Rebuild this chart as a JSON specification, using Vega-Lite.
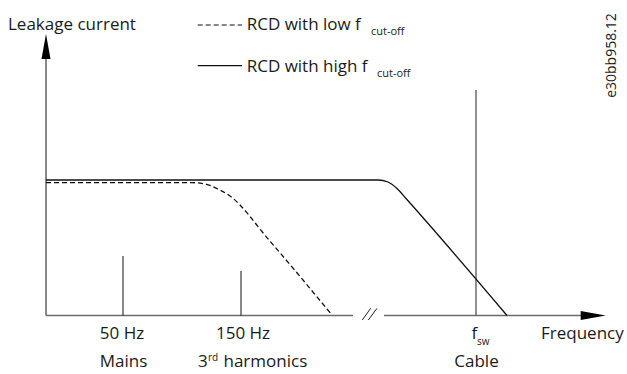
{
  "$schema": "https://vega.github.io/schema/vega-lite/v6.json",
  "width": 627,
  "height": 374,
  "autosize": {"type": "fit", "contains": "padding"},
  "padding": 0,
  "background": "white",
  "config": {"view": {"stroke": null}},
  "datasets": {
    "axes": [
      {"part": "y-axis", "x": 0, "y": 0, "x2": 0, "y2": 256.5},
      {"part": "x-axis left", "x": 0, "y": 0, "x2": 307, "y2": 0},
      {"part": "x-axis right", "x": 338, "y": 0, "x2": 535, "y2": 0}
    ],
    "breaks": [
      {"part": "slash 1", "x": 316.3, "y": -4.5, "x2": 324.7, "y2": 7.2},
      {"part": "slash 2", "x": 322.3, "y": -4.5, "x2": 331, "y2": 7.2}
    ],
    "spikes": [
      {"name": "Mains 50 Hz", "x": 77, "y": 0, "y2": 59.5},
      {"name": "3rd harmonics 150 Hz", "x": 195, "y": 0, "y2": 44.5}
    ],
    "cable": [
      {"name": "Cable fsw", "x": 430, "y": 0, "y2": 225.5}
    ],
    "curves": [
      {"series": "high", "order": 1, "f": 0, "i": 135.5},
      {"series": "high", "order": 2, "f": 332, "i": 135.5},
      {"series": "high", "order": 3, "f": 342, "i": 133.5},
      {"series": "high", "order": 4, "f": 351, "i": 127},
      {"series": "high", "order": 5, "f": 360.7, "i": 116.2},
      {"series": "high", "order": 6, "f": 461, "i": 0},
      {"series": "low", "order": 1, "f": 0, "i": 132.8},
      {"series": "low", "order": 2, "f": 146, "i": 132.8},
      {"series": "low", "order": 3, "f": 159, "i": 131.5},
      {"series": "low", "order": 4, "f": 172, "i": 126.5},
      {"series": "low", "order": 5, "f": 184, "i": 119.5},
      {"series": "low", "order": 6, "f": 223, "i": 75.5},
      {"series": "low", "order": 7, "f": 286, "i": 0.5}
    ],
    "legend": [
      {"series": "low", "x": 151.7, "x2": 196, "y": 290.5},
      {"series": "high", "x": 151.7, "x2": 196, "y": 249.8}
    ],
    "arrows": [
      {"dir": "up", "x": 0, "y": 269},
      {"dir": "right", "x": 547.2, "y": 0}
    ],
    "labels": [
      {"role": "left", "text": "Leakage current", "x": -38, "y": 285.5},
      {"role": "left", "text": "RCD with low f", "x": 200.7, "y": 285.5},
      {"role": "left", "text": "RCD with high f", "x": 200.7, "y": 243.5},
      {"role": "center", "text": "50 Hz", "x": 76, "y": -23.5},
      {"role": "center", "text": "150 Hz", "x": 197, "y": -23.5},
      {"role": "left", "text": "Frequency", "x": 495, "y": -23.5},
      {"role": "left", "text": "f", "x": 425.5, "y": -23.5},
      {"role": "center", "text": "Mains", "x": 77.5, "y": -51.5},
      {"role": "center", "text": "Cable", "x": 430.5, "y": -51.5},
      {"role": "left", "text": "3", "x": 152, "y": -51.5},
      {"role": "left", "text": "harmonics", "x": 177.5, "y": -51.5},
      {"role": "sub", "text": "cut-off", "x": 325, "y": 280.5},
      {"role": "sub", "text": "cut-off", "x": 331, "y": 238.5},
      {"role": "small", "text": "sw", "x": 431, "y": -29.5},
      {"role": "small", "text": "rd", "x": 162, "y": -45.5},
      {"role": "code", "text": "e30bb958.12", "x": 566, "y": 260}
    ]
  },
  "encoding": {
    "x": {"type": "quantitative", "scale": {"domain": [-46, 581], "nice": false, "zero": false}, "axis": null},
    "y": {"type": "quantitative", "scale": {"domain": [-58.5, 315.5], "nice": false, "zero": false}, "axis": null}
  },
  "layer": [
    {
      "data": {"name": "axes"},
      "mark": {"type": "rule", "color": "#6b6b6b", "strokeWidth": 1.6},
      "encoding": {"x": {"field": "x"}, "y": {"field": "y"}, "x2": {"field": "x2"}, "y2": {"field": "y2"}}
    },
    {
      "data": {"name": "breaks"},
      "mark": {"type": "rule", "color": "#222222", "strokeWidth": 1},
      "encoding": {"x": {"field": "x"}, "y": {"field": "y"}, "x2": {"field": "x2"}, "y2": {"field": "y2"}}
    },
    {
      "data": {"name": "spikes"},
      "mark": {"type": "rule", "color": "#111111", "strokeWidth": 1},
      "encoding": {"x": {"field": "x"}, "y": {"field": "y"}, "y2": {"field": "y2"}}
    },
    {
      "data": {"name": "cable"},
      "mark": {"type": "rule", "color": "#555555", "strokeWidth": 1.3},
      "encoding": {"x": {"field": "x"}, "y": {"field": "y"}, "y2": {"field": "y2"}}
    },
    {
      "data": {"name": "curves"},
      "transform": [{"filter": "datum.series === 'high'"}],
      "mark": {"type": "line", "color": "#111111", "strokeWidth": 1.3, "interpolate": "monotone"},
      "encoding": {"x": {"field": "f"}, "y": {"field": "i"}, "order": {"field": "order", "type": "quantitative"}}
    },
    {
      "data": {"name": "curves"},
      "transform": [{"filter": "datum.series === 'low'"}],
      "mark": {"type": "line", "color": "#111111", "strokeWidth": 1.3, "strokeDash": [5, 3], "interpolate": "monotone"},
      "encoding": {"x": {"field": "f"}, "y": {"field": "i"}, "order": {"field": "order", "type": "quantitative"}}
    },
    {
      "data": {"name": "legend"},
      "transform": [{"filter": "datum.series === 'low'"}],
      "mark": {"type": "rule", "color": "#111111", "strokeWidth": 1.2, "strokeDash": [5, 3]},
      "encoding": {"x": {"field": "x"}, "x2": {"field": "x2"}, "y": {"field": "y"}}
    },
    {
      "data": {"name": "legend"},
      "transform": [{"filter": "datum.series === 'high'"}],
      "mark": {"type": "rule", "color": "#111111", "strokeWidth": 1.2},
      "encoding": {"x": {"field": "x"}, "x2": {"field": "x2"}, "y": {"field": "y"}}
    },
    {
      "data": {"name": "arrows"},
      "transform": [{"filter": "datum.dir === 'up'"}],
      "mark": {"type": "point", "shape": "M0,-1L0.36,1L-0.36,1Z", "size": 625, "filled": true, "color": "#000000", "opacity": 1, "strokeWidth": 0},
      "encoding": {"x": {"field": "x"}, "y": {"field": "y"}}
    },
    {
      "data": {"name": "arrows"},
      "transform": [{"filter": "datum.dir === 'right'"}],
      "mark": {"type": "point", "shape": "M1,0L-1,0.36L-1,-0.36Z", "size": 625, "filled": true, "color": "#000000", "opacity": 1, "strokeWidth": 0},
      "encoding": {"x": {"field": "x"}, "y": {"field": "y"}}
    },
    {
      "data": {"name": "labels"},
      "transform": [{"filter": "datum.role === 'left'"}],
      "mark": {"type": "text", "align": "left", "baseline": "alphabetic", "font": "Open Sans", "fontSize": 17, "color": "#1a1a1a"},
      "encoding": {"x": {"field": "x"}, "y": {"field": "y"}, "text": {"field": "text"}}
    },
    {
      "data": {"name": "labels"},
      "transform": [{"filter": "datum.role === 'center'"}],
      "mark": {"type": "text", "align": "center", "baseline": "alphabetic", "font": "Open Sans", "fontSize": 17, "color": "#1a1a1a"},
      "encoding": {"x": {"field": "x"}, "y": {"field": "y"}, "text": {"field": "text"}}
    },
    {
      "data": {"name": "labels"},
      "transform": [{"filter": "datum.role === 'sub'"}],
      "mark": {"type": "text", "align": "left", "baseline": "alphabetic", "font": "Open Sans", "fontSize": 11, "color": "#1a1a1a"},
      "encoding": {"x": {"field": "x"}, "y": {"field": "y"}, "text": {"field": "text"}}
    },
    {
      "data": {"name": "labels"},
      "transform": [{"filter": "datum.role === 'small'"}],
      "mark": {"type": "text", "align": "left", "baseline": "alphabetic", "font": "Open Sans", "fontSize": 10, "color": "#1a1a1a"},
      "encoding": {"x": {"field": "x"}, "y": {"field": "y"}, "text": {"field": "text"}}
    },
    {
      "data": {"name": "labels"},
      "transform": [{"filter": "datum.role === 'code'"}],
      "mark": {"type": "text", "align": "center", "baseline": "middle", "angle": 270, "font": "Open Sans", "fontSize": 14, "color": "#1a1a1a"},
      "encoding": {"x": {"field": "x"}, "y": {"field": "y"}, "text": {"field": "text"}}
    }
  ]
}
